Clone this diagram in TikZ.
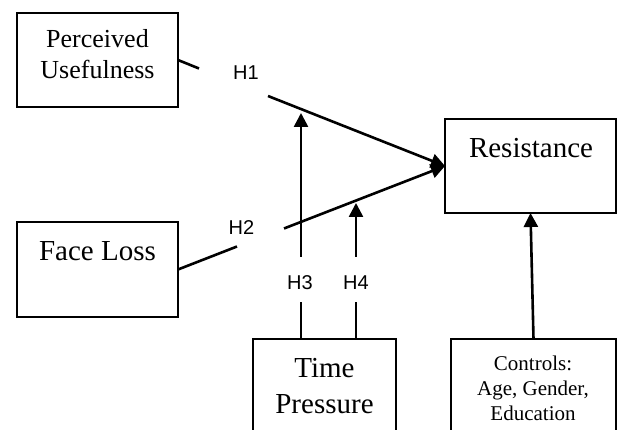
\documentclass[tikz,border=0pt]{standalone}
\usepackage{fontspec}
\setmainfont{Liberation Serif}
\newfontfamily\hfont{Liberation Sans}
\usetikzlibrary{arrows.meta}
\begin{document}
\begin{tikzpicture}[x=1pt,y=-1pt,
  box/.style={draw, line width=2.6pt, inner sep=0pt, outer sep=0pt},
  conn/.style={line width=2.6pt},
  arr/.style={conn, -{Triangle[length=14pt,width=14pt]}},
  hlab/.style={font=\hfont\fontsize{20}{24}\selectfont, anchor=base, inner sep=0pt},
  txtbig/.style={font=\fontsize{29}{35}\selectfont, anchor=base, inner sep=0pt},
  txtmid/.style={font=\fontsize{26}{31}\selectfont, anchor=base, inner sep=0pt},
  txtsmall/.style={font=\fontsize{21}{25}\selectfont, anchor=base, inner sep=0pt}]
\clip (0,0) rectangle (618,430);
\fill[white] (0,0) rectangle (618,430);

% boxes
\node[box, minimum width=161pt, minimum height=94pt] (pu) at (97.5,60) {};
\node[box, minimum width=161pt, minimum height=95pt] (fl) at (97.5,269.5) {};
\node[box, minimum width=171pt, minimum height=94pt] (res) at (530.5,166) {};
\node[box, minimum width=143pt, minimum height=121pt] (tp) at (324.5,399.5) {};
\node[box, minimum width=165pt, minimum height=121pt] (ctrl) at (533.5,399.5) {};

% box texts
\node[txtmid] (pu1) at (97.5,48) {Perceived};
\node[txtmid] (pu2) at (97.5,79) {Usefulness};
\node[txtbig] (fl1) at (97.5,261) {Face Loss};
\node[txtbig] (res1) at (531,158) {Resistance};
\node[txtbig] (tp1) at (324.5,377) {Time};
\node[txtbig] (tp2) at (324.5,413) {Pressure};
\node[txtsmall] (ct1) at (533,370) {Controls:};
\node[txtsmall] (ct2) at (533,395) {Age, Gender,};
\node[txtsmall] (ct3) at (533,420) {Education};

% hypothesis labels
\node[hlab] (h1) at (246,80) {H1};
\node[hlab] (h2) at (241.5,235) {H2};
\node[hlab] (h3) at (300,290) {H3};
\node[hlab] (h4) at (356,290) {H4};

% gap coordinates
\coordinate (g1a) at (199,68.5);
\coordinate (g1b) at (268,96);
\coordinate (g2a) at (237,246.5);
\coordinate (g2b) at (284,228.5);
\coordinate (g3a) at (301,302);
\coordinate (g3b) at (301,257);
\coordinate (g3t) at (301,113);
\coordinate (g4a) at (356,302);
\coordinate (g4b) at (356,257);
\coordinate (g4t) at (356,203);

% connectors
\draw[conn] (pu.east) -- (g1a);
\draw[arr] (g1b) -- (res.west);
\draw[conn] (fl.east) -- (g2a);
\draw[arr] (g2b) -- (res.west);
\draw[conn] (tp.north -| g3a) -- (g3a);
\draw[arr] (g3b) -- (g3t);
\draw[conn] (tp.north -| g4a) -- (g4a);
\draw[arr] (g4b) -- (g4t);
\draw[arr] (ctrl.north) -- (res.south);
\end{tikzpicture}
\end{document}
